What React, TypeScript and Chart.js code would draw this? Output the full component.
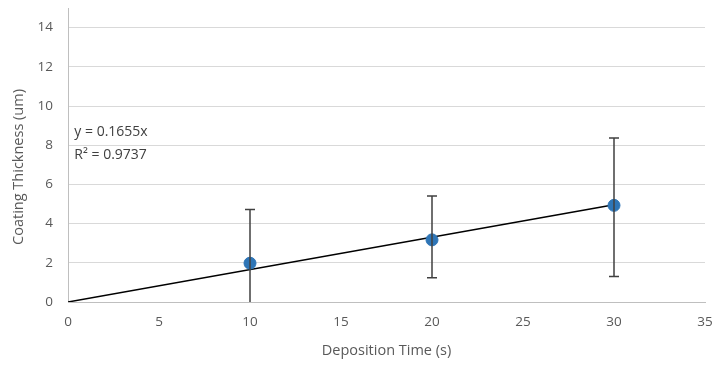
import React, { useEffect, useRef } from "react";
import { Chart, registerables } from "chart.js";

Chart.register(...registerables);

const times = [10, 20, 30];
const thickness = [1.98, 3.17, 4.93];
const errLow = [0.0, 1.24, 1.3];
const errHigh = [4.72, 5.41, 8.37];
const slope = 0.1655;
const trendX = [0, 30];
const equationLines = ["y = 0.1655x", "R² = 0.9737"];
const xTicks = [0, 5, 10, 15, 20, 25, 30, 35];
const yTicks = [0, 2, 4, 6, 8, 10, 12, 14];
const yTitle = "Coating Thickness (um)";

const FONT = "'Open Sans', 'Liberation Sans', sans-serif";
const TEXT = "#595959";

const errorBarPlugin = {
  id: "errorBars",
  afterDatasetsDraw(chart: any) {
    const { ctx, scales } = chart;
    const xs = scales.x;
    const ys = scales.y;
    ctx.save();
    ctx.strokeStyle = "#404040";
    ctx.lineWidth = 1.5;
    times.forEach((t, i) => {
      const px = xs.getPixelForValue(t);
      const top = ys.getPixelForValue(errHigh[i]);
      const bot = ys.getPixelForValue(errLow[i]);
      ctx.beginPath();
      ctx.moveTo(px, top);
      ctx.lineTo(px, bot);
      ctx.moveTo(px - 5, top);
      ctx.lineTo(px + 5, top);
      if (errLow[i] > 0) {
        ctx.moveTo(px - 5, bot);
        ctx.lineTo(px + 5, bot);
      }
      ctx.stroke();
    });
    ctx.restore();
  },
  afterDraw(chart: any) {
    const { ctx, scales, chartArea } = chart;
    ctx.save();
    ctx.fillStyle = "#404040";
    ctx.font = `14px ${FONT}`;
    ctx.textBaseline = "middle";
    ctx.textAlign = "left";
    const x0 = scales.x.getPixelForValue(0.35);
    ctx.fillText(equationLines[0], x0, scales.y.getPixelForValue(8.65));
    ctx.fillText(equationLines[1], x0, scales.y.getPixelForValue(7.5));
    // y axis title
    ctx.fillStyle = TEXT;
    ctx.font = `14.5px ${FONT}`;
    ctx.textAlign = "center";
    ctx.translate(19, (chartArea.top + chartArea.bottom) / 2 + 12);
    ctx.rotate(-Math.PI / 2);
    ctx.fillText(yTitle, 0, 0);
    ctx.restore();
  },
};

export default function App() {
  const ref = useRef<HTMLCanvasElement>(null);
  useEffect(() => {
    if (!ref.current) return;
    const chart = new Chart(ref.current, {
      type: "scatter",
      data: {
        datasets: [
          {
            type: "line",
            label: "Trend",
            data: trendX.map((x) => ({ x, y: slope * x })),
            borderColor: "#000000",
            borderWidth: 1.5,
            pointRadius: 0,
            fill: false,
            order: 2,
          } as any,
          {
            label: "Thickness",
            data: times.map((t, i) => ({ x: t, y: thickness[i] })),
            backgroundColor: "#2E75B6",
            borderColor: "#2E75B6",
            pointRadius: 6,
            order: 1,
          },
        ],
      },
      options: {
        animation: false,
        responsive: false,
        layout: { padding: { left: 0, right: 10, top: 8, bottom: 0 } },
        plugins: { legend: { display: false }, tooltip: { enabled: false } },
        scales: {
          x: {
            type: "linear",
            min: 0,
            max: 35,
            afterBuildTicks: (s: any) => {
              s.ticks = xTicks.map((v) => ({ value: v }));
            },
            afterFit: (s: any) => {
              s.height = 63;
              s.paddingLeft = 0;
              s.paddingRight = 0;
            },
            grid: { display: false, drawTicks: false },
            border: { display: true, color: "#BFBFBF", width: 1 },
            ticks: { color: TEXT, font: { family: FONT, size: 13.5 }, padding: 12 },
            title: {
              display: true,
              text: "Deposition Time (s)",
              color: TEXT,
              font: { family: FONT, size: 14.5 },
              padding: { top: 0, bottom: 5 },
            },
          },
          y: {
            type: "linear",
            min: 0,
            max: 15,
            afterBuildTicks: (s: any) => {
              s.ticks = yTicks.map((v) => ({ value: v }));
            },
            afterFit: (s: any) => {
              s.width = 68;
              s.paddingTop = 0;
              s.paddingBottom = 0;
            },
            grid: { color: "#D9D9D9", drawTicks: false, lineWidth: 1 },
            border: { display: true, color: "#BFBFBF", width: 1 },
            ticks: { color: TEXT, font: { family: FONT, size: 13.5 }, padding: 15 },
          },
        },
      },
      plugins: [errorBarPlugin],
    });
    return () => chart.destroy();
  }, []);
  return (
    <div style={{ position: "absolute", left: 0, top: 0, width: 715, height: 365, background: "#fff" }}>
      <canvas ref={ref} width={715} height={365} />
    </div>
  );
}
